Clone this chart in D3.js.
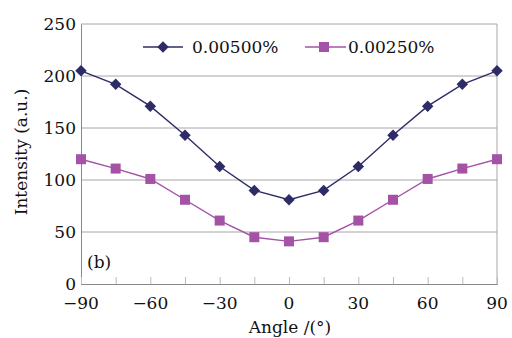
<!DOCTYPE html>
<html>
<head>
<meta charset="utf-8">
<script src="https://cdn.jsdelivr.net/npm/d3@7"></script>
<style>
  body { margin: 0; background: #fff; }
  svg text { font-family: "DejaVu Serif", "Liberation Serif", "Times New Roman", serif; fill: #111; }
</style>
</head>
<body>
<svg id="chart" width="512" height="338"></svg>
<script>
// data
const angles = [-90, -75, -60, -45, -30, -15, 0, 15, 30, 45, 60, 75, 90];
const conc500 = [205, 192, 171, 143, 113, 90, 81, 90, 113, 143, 171, 192, 205];
const conc250 = [120, 111, 101, 81, 61, 45, 41, 45, 61, 81, 101, 111, 120];
const seriesNames = ['0.00500%', '0.00250%'];
const xTicks = [-90, -60, -30, 0, 30, 60, 90];
const yTicks = [0, 50, 100, 150, 200, 250];

const FONT = '"DejaVu Serif", "Liberation Serif", serif';
const svg = d3.select('#chart');
const plotL = 81, plotR = 497, plotT = 24, plotB = 284;

const x = d3.scaleLinear().domain([-90, 90]).range([plotL, plotR]);
const y = d3.scaleLinear().domain([0, 250]).range([plotB, plotT]);

// gridlines
svg.append('g')
  .selectAll('line')
  .data(yTicks.slice(1))
  .enter()
  .append('line')
  .attr('x1', plotL).attr('x2', plotR)
  .attr('y1', d => y(d)).attr('y2', d => y(d))
  .attr('stroke', '#a8a4a8').attr('stroke-width', 1);

// right border
svg.append('line')
  .attr('x1', plotR).attr('x2', plotR).attr('y1', plotT).attr('y2', plotB)
  .attr('stroke', '#a8a4a8');

// y axis
const yAxis = d3.axisLeft(y).tickValues(yTicks).tickSize(0).tickPadding(5);
const gy = svg.append('g').attr('transform', `translate(${plotL},0)`).call(yAxis);
gy.attr('font-family', FONT).attr('font-size', 17);
gy.select('.domain').attr('stroke', '#888');
gy.selectAll('text').attr('fill', '#111');

// x axis with little inward ticks
const xAxis = d3.axisTop(x).tickValues(d3.range(-90, 91, 15)).tickSize(7).tickFormat('');
const gx = svg.append('g').attr('transform', `translate(0,${plotB})`).call(xAxis);
gx.select('.domain').attr('stroke', '#888');
gx.selectAll('line').attr('stroke', '#bbb');

svg.append('g')
  .selectAll('text')
  .data(xTicks)
  .enter()
  .append('text')
  .attr('x', d => x(d))
  .attr('y', plotB + 25)
  .attr('text-anchor', 'middle')
  .attr('font-family', FONT)
  .attr('font-size', 17)
  .text(d => d < 0 ? '\u2212' + Math.abs(d) : d);

// axis titles
svg.append('text')
  .attr('x', 290).attr('y', 333)
  .attr('text-anchor', 'middle')
  .attr('font-family', FONT).attr('font-size', 17)
  .text('Angle /(\u00b0)');

svg.append('text')
  .attr('transform', 'translate(27,152) rotate(-90)')
  .attr('text-anchor', 'middle')
  .attr('font-family', FONT).attr('font-size', 17)
  .text('Intensity (a.u.)');

svg.append('text')
  .attr('x', 87).attr('y', 268)
  .attr('font-family', FONT).attr('font-size', 17)
  .text('(b)');

const line = d3.line().x((d, i) => x(angles[i])).y(d => y(d));
const col1 = '#2e2c66', col2 = '#a452a6';

// series 1: diamonds
svg.append('path').datum(conc500)
  .attr('d', line).attr('fill', 'none').attr('stroke', col1).attr('stroke-width', 1.4);
const diamond = d3.symbol().type(d3.symbolSquare).size(66);
svg.append('g').selectAll('path')
  .data(conc500).enter().append('path')
  .attr('d', diamond)
  .attr('transform', (d, i) => `translate(${x(angles[i])},${y(d)}) rotate(45)`)
  .attr('fill', col1);

// series 2: squares
svg.append('path').datum(conc250)
  .attr('d', line).attr('fill', 'none').attr('stroke', col2).attr('stroke-width', 1.4);
svg.append('g').selectAll('rect')
  .data(conc250).enter().append('rect')
  .attr('x', (d, i) => x(angles[i]) - 5)
  .attr('y', d => y(d) - 5)
  .attr('width', 10).attr('height', 10)
  .attr('fill', col2);

// legend
const lg = svg.append('g').attr('font-family', FONT).attr('font-size', 17);
lg.append('line').attr('x1', 143).attr('x2', 183).attr('y1', 47).attr('y2', 47)
  .attr('stroke', col1).attr('stroke-width', 1.4);
lg.append('path').attr('d', diamond).attr('transform', 'translate(163,47) rotate(45)').attr('fill', col1);
lg.append('text').attr('x', 192).attr('y', 53).text(seriesNames[0]);

lg.append('line').attr('x1', 305).attr('x2', 346).attr('y1', 47).attr('y2', 47)
  .attr('stroke', col2).attr('stroke-width', 1.4);
lg.append('rect').attr('x', 319).attr('y', 42).attr('width', 10).attr('height', 10).attr('fill', col2);
lg.append('text').attr('x', 348).attr('y', 53).text(seriesNames[1]);
</script>
</body>
</html>
